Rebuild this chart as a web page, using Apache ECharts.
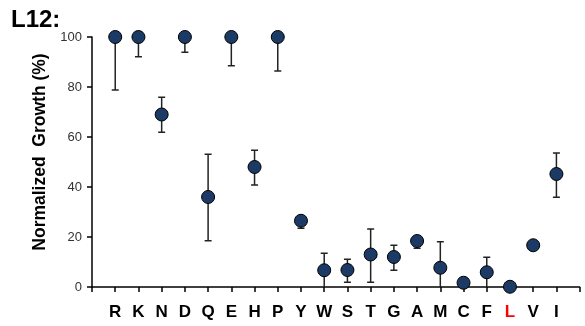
<!DOCTYPE html>
<html>
<head>
<meta charset="utf-8">
<script src="https://cdn.jsdelivr.net/npm/echarts@6/dist/echarts.min.js"></script>
<style>html,body{margin:0;padding:0;background:#fff;}#c{width:585px;height:326px;}</style>
</head>
<body>
<div id="c"></div>
<script>
var categories = ['R','K','N','D','Q','E','H','P','Y','W','S','T','G','A','M','C','F','L','V','I'];
var values = [100,100,69,100,36,100,48,100,26.5,6.7,6.8,13,12,18.4,7.7,1.7,5.9,0.1,16.7,45.2];
var lower  = [78.8,92.1,61.9,93.9,18.5,88.5,40.8,86.4,23.5,0,1.9,1.9,6.7,15.5,0,1.7,0,0.1,15.5,35.9];
var upper  = [100,100,75.9,100,53.1,100,54.7,100,28,13.5,11.1,23.2,16.7,20,18.1,1.7,11.9,0.1,18,53.6];
var yTicks = [0,20,40,60,80,100];

var axisCats = [''].concat(categories).concat([' ']);
var pts = values.map(function(v,i){ return [i+1, v]; });
var errs = values.map(function(v,i){ return [i+1, lower[i], upper[i]]; });

var chart = echarts.init(document.getElementById('c'));
chart.setOption({
  animation: false,
  title: {text: 'L12:', left: 6, top: 3, textStyle: {fontFamily: 'Liberation Sans', fontWeight: 'bold', fontSize: 24, color: '#000'}},
  grid: {left: 92, top: 37, height: 250, width: 496},
  xAxis: {
    type: 'category', data: axisCats, boundaryGap: false,
    axisLine: {lineStyle: {color: '#000', width: 1.5}},
    axisTick: {show: true, inside: false, length: 5, interval: 0, lineStyle: {color: '#000', width: 1.5}},
    axisLabel: {interval: 0, margin: 17, fontFamily: 'Liberation Sans', fontWeight: 'bold', fontSize: 17, color: '#000',
      formatter: function(v){ return v === 'L' ? '{r|L}' : v; },
      rich: {r: {color: '#ff0000', fontFamily: 'Liberation Sans', fontWeight: 'bold', fontSize: 17}}},
    splitLine: {show: false}
  },
  yAxis: {
    type: 'value', min: yTicks[0], max: yTicks[yTicks.length-1], interval: 20,
    name: 'Normalized  Growth (%)', nameLocation: 'middle', nameGap: 39, nameRotate: 90,
    nameTextStyle: {fontFamily: 'Liberation Sans', fontWeight: 'bold', fontSize: 17.5, color: '#000', padding: [0, 0, 0, 20]},
    axisLine: {show: true, lineStyle: {color: '#000', width: 1.5}},
    axisTick: {show: true, inside: false, length: 5, lineStyle: {color: '#000', width: 1.5}},
    axisLabel: {margin: 10, fontFamily: 'Liberation Sans', fontSize: 13, color: '#333'},
    splitLine: {show: false}
  },
  series: [
    {
      type: 'custom', z: 2, clip: false,
      data: errs,
      renderItem: function(params, api){
        var x = api.value(0), lo = api.value(1), hi = api.value(2);
        var pl = api.coord([x, lo]), ph = api.coord([x, hi]);
        var cw = 3.5, st = {stroke: '#222', lineWidth: 1.5};
        var ch = [{type: 'line', shape: {x1: pl[0], y1: pl[1], x2: ph[0], y2: ph[1]}, style: st}];
        if (lo > 0) ch.push({type: 'line', shape: {x1: pl[0]-cw, y1: pl[1], x2: pl[0]+cw, y2: pl[1]}, style: st});
        if (hi < 100) ch.push({type: 'line', shape: {x1: ph[0]-cw, y1: ph[1], x2: ph[0]+cw, y2: ph[1]}, style: st});
        return {type: 'group', children: ch};
      }
    },
    {
      type: 'scatter', z: 3, data: pts, symbol: 'circle', symbolSize: 13,
      itemStyle: {color: '#1B3A66', borderColor: '#000', borderWidth: 1, opacity: 1}
    }
  ]
});
</script>
</body>
</html>
